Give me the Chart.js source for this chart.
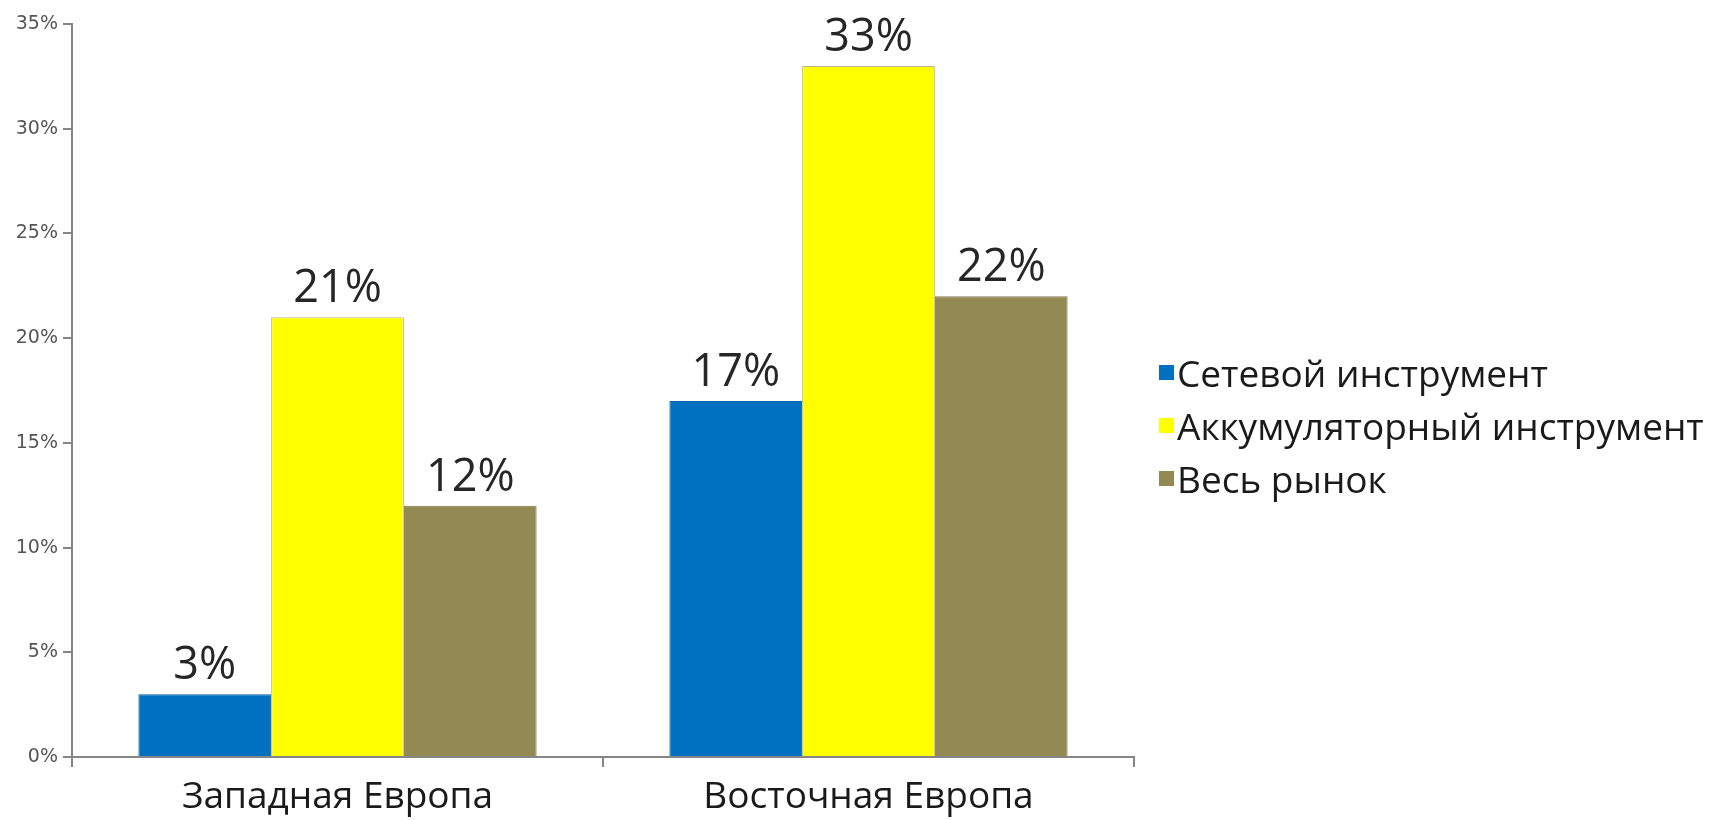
<!DOCTYPE html>
<html lang="ru">
<head>
	<meta charset="UTF-8">
	<title>Рост рынка инструмента</title>
	<style>
		body {
			margin: 0;
			background: white;
			font-family: "Open Sans", sans-serif;
		}
		.wrap {
			position: relative;
			width: 1721px;
			height: 820px;
		}
		#legend {
			position: absolute;
			left: 1159px;
			top: 346px;
			color: #1a1a1a;
			font-size: 37px;
		}
		#legend div {
			display: flex;
			align-items: center;
			height: 53px;
			white-space: nowrap;
		}
		#legend span.box {
			display: inline-block;
			width: 15px;
			height: 15px;
			margin-right: 3px;
		}
	</style>
	<script src="https://cdn.jsdelivr.net/npm/chart.js"></script>
</head>
<body>
<div class="wrap">
	<canvas id="chart" width="1721" height="820"></canvas>
	<div id="legend"></div>
</div>
<script>
	// данные диаграммы
	const regions = ['Западная Европа', 'Восточная Европа'];
	const seriesNames = ['Сетевой инструмент', 'Аккумуляторный инструмент', 'Весь рынок'];
	const corded = [3, 17];
	const cordless = [21, 33];
	const wholeMarket = [12, 22];
	const yTicks = [0, 5, 10, 15, 20, 25, 30, 35];

	const colors = ['#0070C0', '#FFFF00', '#938953'];
	const borders = ['#0a64a8', '#b8b890', '#857c4c'];

	// подписи значений над столбцами
	const valueLabels = {
		id: 'valueLabels',
		afterDatasetsDraw(chart) {
			const ctx = chart.ctx;
			ctx.save();
			ctx.font = '45px "Open Sans"';
			ctx.fillStyle = '#262626';
			ctx.textAlign = 'center';
			ctx.textBaseline = 'alphabetic';
			chart.data.datasets.forEach((ds, i) => {
				chart.getDatasetMeta(i).data.forEach((bar, j) => {
					ctx.fillText(ds.data[j] + '%', bar.x, bar.y - 15);
				});
			});
			ctx.restore();
		}
	};

	const chart = new Chart(document.getElementById('chart'), {
		type: 'bar',
		data: {
			labels: regions,
			datasets: [corded, cordless, wholeMarket].map((d, i) => ({
				label: seriesNames[i],
				data: d,
				backgroundColor: colors[i],
				borderColor: borders[i],
				borderWidth: 1,
				categoryPercentage: 0.75,
				barPercentage: 1
			}))
		},
		options: {
			responsive: false,
			animation: false,
			layout: {
				padding: { left: 0, top: 24, right: 587, bottom: 0 }
			},
			plugins: {
				legend: { display: false },
				tooltip: { enabled: false }
			},
			scales: {
				x: {
					grid: {
						offset: true,
						drawOnChartArea: false,
						tickLength: 10,
						color: '#858585',
						lineWidth: 2
					},
					border: { color: '#858585', width: 2 },
					ticks: {
						color: '#1a1a1a',
						font: { family: 'Open Sans', size: 37 },
						padding: 8
					},
					afterFit: (scale) => { scale.height = 63; }
				},
				y: {
					min: 0,
					max: 35,
					afterBuildTicks: (scale) => {
						scale.ticks = yTicks.map(v => ({ value: v }));
					},
					grid: {
						drawOnChartArea: false,
						tickLength: 9,
						color: '#858585',
						lineWidth: 2
					},
					border: { color: '#858585', width: 2 },
					ticks: {
						color: '#555555',
						font: { family: 'DejaVu Sans', size: 19 },
						padding: 5,
						callback: (v) => v + '%'
					},
					afterFit: (scale) => { scale.width = 72; }
				}
			}
		},
		plugins: [valueLabels]
	});

	// легенда справа
	const legend = document.getElementById('legend');
	chart.data.datasets.forEach((ds) => {
		const row = document.createElement('div');
		const box = document.createElement('span');
		box.className = 'box';
		box.style.background = ds.backgroundColor;
		row.appendChild(box);
		row.appendChild(document.createTextNode(ds.label));
		legend.appendChild(row);
	});
</script>
</body>
</html>
